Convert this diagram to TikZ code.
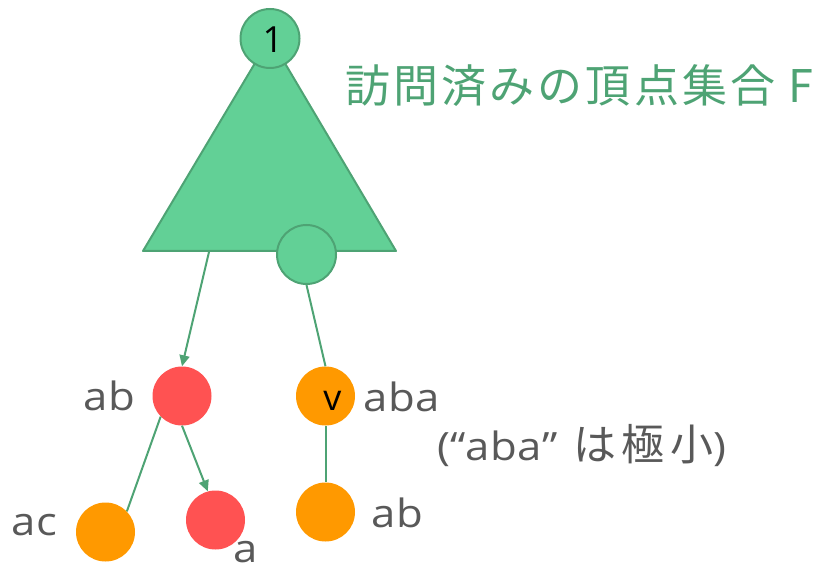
\documentclass[tikz,border=0pt]{standalone}
\usepackage{fontspec}
\setmainfont{Open Sans}
\newfontfamily\labfont{Open Sans}[FakeStretch=1.12, LetterSpace=2]
\newfontfamily\notefont{Noto Sans CJK JP}[LetterSpace=13]
\newfontfamily\titlefont{Noto Sans CJK JP}[LetterSpace=7]
\usetikzlibrary{arrows.meta}
\definecolor{setfill}{HTML}{62D096}
\definecolor{setline}{HTML}{4EA374}
\definecolor{redv}{HTML}{FF5252}
\definecolor{orangev}{HTML}{FF9900}
\definecolor{labgray}{HTML}{595959}
\tikzset{
  vert/.style={circle, minimum size=59pt, inner sep=0pt},
  setvert/.style={vert, fill=setfill, draw=setline, line width=2pt},
  redvert/.style={vert, fill=redv},
  orangevert/.style={vert, fill=orangev},
  edge/.style={draw=setline, line width=2pt},
  arc/.style={edge, -{Triangle[length=11pt,width=10pt]}},
  lab/.style={inner sep=0pt, text=labgray, font=\labfont\fontsize{39}{39}\selectfont},
  inlab/.style={inner sep=0pt, text=black, font=\fontsize{36}{36}\selectfont},
}
\begin{document}
\begin{tikzpicture}[x=1pt, y=-1pt]
\useasboundingbox (0,0) rectangle (819,569);

% the visited set F
\coordinate (apex) at (270,38);
\coordinate (bl) at (143,251);
\coordinate (br) at (396,251);
\coordinate (exit) at (209,252);
\fill[setfill, draw=setline, line width=2pt, line join=round] (bl) -- (br) -- (apex) -- cycle;
\node[setvert] (root) at (270,38.5) {};
\node[inlab, anchor=base] (rootlab) at (273,53) {1};
\node[setvert] (last) at (306.5,254.5) {};

\node[anchor=base west, inner sep=0pt, text=setline, font=\titlefont\fontsize{45}{45}\selectfont] (title) at (345,102.5) {訪問済みの頂点集合 F};

% vertices outside F
\node[redvert] (ab) at (182,396) {};
\node[orangevert] (v) at (325.5,396) {};
\node[inlab, anchor=base] (vlab) at (332.5,410) {v};
\node[orangevert] (ac) at (105.5,532) {};
\node[redvert] (a) at (215.5,520) {};
\node[orangevert] (ab2) at (325.5,512) {};

% connectors
\draw[arc] (exit) -- (ab.north);
\draw[edge] (last.south) -- (v.north);
\draw[edge] (ab.224) -- (ac.44);
\draw[arc] (ab.south) -- (a.105);
\draw[edge] (v.south) -- (ab2.north);

% labels
\node[lab, anchor=base west] (labab) at (83,410) {ab};
\node[lab, anchor=base west] (lababa) at (363,411.5) {aba};
\node[lab, anchor=base west] (note) at (437,460) {(“aba”{\notefont\fontsize{43}{43}\selectfont\ は極小})};
\node[lab, anchor=base west] (labac) at (11,535) {ac};
\node[lab, anchor=base west] (laba) at (233,562) {a};
\node[lab, anchor=base west] (labab2) at (371,527) {ab};
\end{tikzpicture}
\end{document}
